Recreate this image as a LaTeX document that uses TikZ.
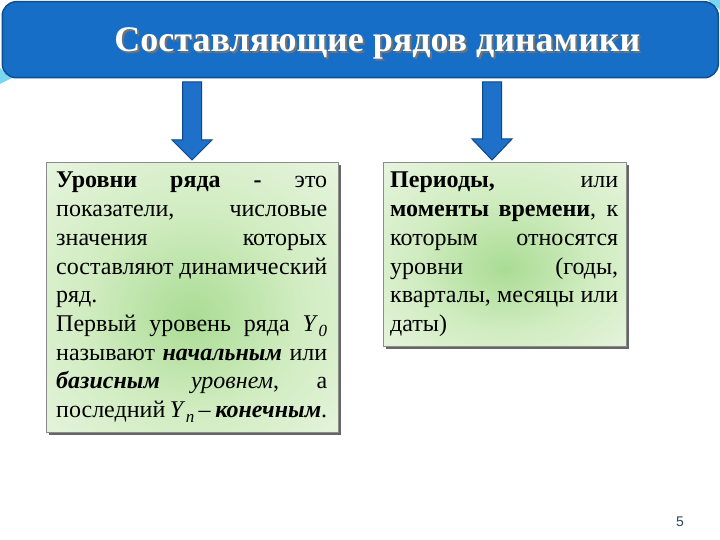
\documentclass[tikz,border=0pt]{standalone}
\usepackage{fontspec}
\setmainfont{LiberationSerif}[Extension=.ttf,UprightFont=*-Regular,BoldFont=*-Bold,ItalicFont=*-Italic,BoldItalicFont=*-BoldItalic]
\newfontfamily\numfont{Liberation Sans}
\usetikzlibrary{shadows}
\definecolor{bannerblue}{RGB}{22,110,198}
\definecolor{bannerdark}{RGB}{14,78,150}
\definecolor{arrowblue}{RGB}{30,112,200}
\definecolor{arrowdark}{RGB}{12,70,140}
\definecolor{boxin}{RGB}{170,220,148}
\definecolor{boxmid}{RGB}{208,236,192}
\definecolor{boxout}{RGB}{238,247,232}
\definecolor{cyanglow}{RGB}{120,215,238}
\definecolor{pnum}{RGB}{40,70,90}
\pgfdeclareradialshading{boxglow}{\pgfpoint{0bp}{-4bp}}{color(0bp)=(boxin); color(18bp)=(boxmid); color(42bp)=(boxout); color(50bp)=(boxout)}
\newcommand\jl[1]{\noindent\makebox[\linewidth][s]{#1}\par}
\newcommand\Ysub[1]{\textit{Y}\kern0.5pt\raisebox{-5pt}{\fontsize{17}{17}\selectfont\textit{#1}}}
\begin{document}
\begin{tikzpicture}[x=1pt,y=-1pt,
  banner/.style={draw=bannerdark, line width=1.5pt, fill=bannerblue, rounded corners=14pt, anchor=north west},
  blockarrow/.style={draw=arrowdark, line width=1pt, fill=arrowblue, line join=miter},
  infobox/.style={draw=black!45, line width=0.6pt, shade, shading=boxglow, anchor=north west, inner sep=0pt,
    drop shadow={shadow xshift=3pt, shadow yshift=-3pt, fill=black!75, opacity=0.8}},
  boxtext/.style={anchor=base west, inner sep=0pt},
  titletext/.style={font=\fontsize{36}{40}\selectfont\bfseries, anchor=base, inner sep=0pt}
]
\useasboundingbox (0,0) rectangle (720,540);
\fill[white] (0,0) rectangle (720,540);
% cyan glow behind banner corners
\fill[cyanglow] (0,68) -- (12,78) -- (0,84) -- cycle;
\fill[cyanglow] (708,0) -- (720,0) -- (720,10) -- cycle;
% banner
\node[banner, minimum width=716pt, minimum height=76pt] (banner) at (1.5,1) {};
\node[titletext, text=black!55] (titleshadow) at (379.5,54) {Составляющие рядов динамики};
\node[titletext, text=white] (title) at (377.5,52) {Составляющие рядов динамики};
% arrows
\coordinate (la) at (192,82);
\coordinate (ra) at (492,82);
\draw[blockarrow] (la) ++(-9.5,0) -- ++(19,0) -- ++(0,58) -- ++(10.5,0) -- ++(-20,20) -- ++(-20,-20) -- ++(10.5,0) -- cycle;
\draw[blockarrow] (ra) ++(-9.5,0) -- ++(19,0) -- ++(0,57) -- ++(10.5,0) -- ++(-20,21) -- ++(-20,-21) -- ++(10.5,0) -- cycle;
% boxes
\node[infobox, minimum width=292pt, minimum height=270pt] (lbox) at (46,162) {};
\node[infobox, minimum width=243pt, minimum height=184pt] (rbox) at (383,162) {};
\node[boxtext] (ltext) at (56,188) {\begin{minipage}[t]{271pt}\fontsize{24}{28.7}\selectfont\parindent=0pt\parskip=0pt
\jl{\textbf{Уровни ряда -} это}
\jl{показатели, числовые}
\jl{значения которых}
\jl{составляют динамический}
ряд.\par
\jl{Первый уровень ряда \Ysub{0}}
\jl{называют \textbf{\textit{начальным}} или}
\jl{\textbf{\textit{базисным}} \textit{уровнем}, а}
\jl{последний \Ysub{n} – \textbf{\textit{конечным}}.}
\end{minipage}};
\node[boxtext] (rtext) at (390,188) {\begin{minipage}[t]{228pt}\fontsize{24}{28.7}\selectfont\parindent=0pt\parskip=0pt
\jl{\textbf{Периоды,} или}
\jl{\textbf{моменты времени}, к}
\jl{которым относятся}
\jl{уровни (годы,}
\jl{кварталы, месяцы или}
даты)\par
\end{minipage}};
% page number
\node[font=\numfont\fontsize{14}{14}\selectfont, text=pnum, inner sep=0pt] (pg) at (680,522) {5};
\end{tikzpicture}
\end{document}
